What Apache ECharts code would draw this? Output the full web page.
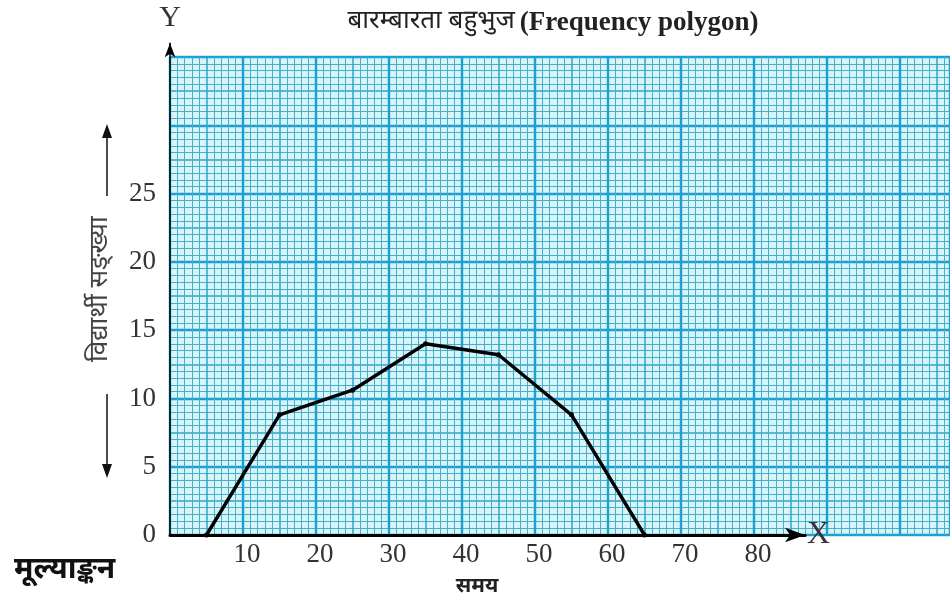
<!DOCTYPE html>
<html>
<head>
<meta charset="utf-8">
<script src="https://cdn.jsdelivr.net/npm/echarts@6/dist/echarts.min.js"></script>
<style>
html,body{margin:0;padding:0;background:#fff;}
#c{width:950px;height:604px;}
</style>
</head>
<body>
<div id="c"></div>
<script>
// ---- data ----
var classMarks = [5, 15, 25, 35, 45, 55, 65];
var frequencies = [0, 8.8, 10.6, 14, 13.2, 8.8, 0];
var xTickLabels = [10, 20, 30, 40, 50, 60, 70, 80];
var yTickLabels = [0, 5, 10, 15, 20, 25];
var titleText = 'बारम्बारता बहुभुज';
var titleEn = '(Frequency polygon)';
var xName = 'समय';
var yName = 'विद्यार्थी सङ्ख्या';
var cornerText = 'मूल्याङ्कन';

var DEV = '"Noto Sans Devanagari","Lohit Devanagari","FreeSans","Noto Sans",sans-serif';
var SERIF = '"Liberation Serif","DejaVu Serif",serif';

var chart = echarts.init(document.getElementById('c'), null, {renderer: 'canvas'});

var left = 170, bottom = 69, top0 = 57;
var plotH = 604 - bottom - top0;   // 478 -> 35 units
var pxY = plotH / 35;
var pxX = 7.3;
var paperW = 950 - left;
var axisXMax = 87;
var axisYMax = 36;
var axisTop = 604 - bottom - axisYMax * pxY;

var MINOR = '#4aaec4', MED = '#2ea3c8', MAJOR = '#1d9fd4', FILL = '#d6f5fa';

function pair(grid, xint, xminor, yint, yminor, show, color, width) {
  return {
    x: {type: 'value', gridIndex: grid, min: 0, max: paperW / pxX, interval: xint,
        axisLine: {show: false}, axisTick: {show: false}, axisLabel: {show: false},
        splitLine: {show: true, lineStyle: {color: color, width: width}},
        minorTick: {show: false, splitNumber: xminor},
        minorSplitLine: {show: show, lineStyle: {color: MINOR, width: 1}}},
    y: {type: 'value', gridIndex: grid, min: 0, max: 35, interval: yint,
        axisLine: {show: false}, axisTick: {show: false}, axisLabel: {show: false},
        splitLine: {show: true, lineStyle: {color: color, width: width}},
        minorTick: {show: false, splitNumber: yminor},
        minorSplitLine: {show: show, lineStyle: {color: MINOR, width: 1}}}
  };
}
var p0 = pair(0, 5, 5, 2.5, 5, true, MED, 1.5);
var p1 = pair(1, 10, 5, 5, 5, false, MAJOR, 2.4);
p1.y.name = 'Y';
p1.y.nameLocation = 'end';
p1.y.nameGap = 24;
p1.y.nameTextStyle = {fontFamily: SERIF, fontSize: 30, color: '#333', align: 'center'};

var option = {
  backgroundColor: '#fff',
  animation: false,
  title: [
    {text: '{a|' + titleText + '} {b|' + titleEn + '}', left: 548, top: 5, textAlign: 'center',
     textStyle: {rich: {
       a: {fontFamily: DEV, fontSize: 26, fontWeight: 'normal', color: '#222'},
       b: {fontFamily: SERIF, fontSize: 27, fontWeight: 'bold', color: '#222'}}}},
    {text: cornerText, left: 9, top: 552,
     textStyle: {fontFamily: DEV, fontSize: 30, fontWeight: 'bold', color: '#111'}},
    {text: xName, left: 472, top: 573, textAlign: 'center',
     textStyle: {fontFamily: DEV, fontSize: 21, fontWeight: 'bold', color: '#222'}}
  ],
  grid: [
    {left: left, top: top0, width: paperW, height: plotH, show: true, backgroundColor: FILL, borderWidth: 0},
    {left: left, top: top0, width: paperW, height: plotH, show: false},
    {left: left, top: axisTop, width: axisXMax * pxX, height: axisYMax * pxY, show: false}
  ],
  xAxis: [p0.x, p1.x, {
    type: 'value', gridIndex: 2, min: 0, max: axisXMax, interval: 10,
    name: 'X', nameLocation: 'end', nameGap: 2,
    nameTextStyle: {fontFamily: SERIF, fontSize: 32, color: '#3a3040', verticalAlign: 'middle'},
    axisLine: {show: true, symbol: ['none', 'arrow'], symbolSize: [11, 20], lineStyle: {color: '#000', width: 3}},
    axisTick: {show: false}, splitLine: {show: false},
    axisLabel: {fontFamily: SERIF, fontSize: 27, color: '#333', margin: 6, padding: [0, 0, 0, 8],
      formatter: function (v) { return xTickLabels.indexOf(v) >= 0 ? String(v) : ''; }}
  }],
  yAxis: [p0.y, p1.y, {
    type: 'value', gridIndex: 2, min: 0, max: axisYMax, interval: 5,
    name: yName, nameLocation: 'middle', nameRotate: 90, nameGap: 55,
    nameTextStyle: {fontFamily: DEV, fontSize: 26, color: '#444'},
    axisLine: {show: true, symbol: ['none', 'arrow'], symbolSize: [8, 14], lineStyle: {color: '#000', width: 1.5}},
    axisTick: {show: false}, splitLine: {show: false},
    axisLabel: {fontFamily: SERIF, fontSize: 27, color: '#333', margin: 14,
      formatter: function (v) { return yTickLabels.indexOf(v) >= 0 ? String(v) : ''; }}
  }],
  graphic: [
    {type: 'line', shape: {x1: 107, y1: 196, x2: 107, y2: 136}, style: {stroke: '#111', lineWidth: 1.5}},
    {type: 'polygon', shape: {points: [[102, 138], [112, 138], [107, 124]]}, style: {fill: '#111'}},
    {type: 'line', shape: {x1: 107, y1: 394, x2: 107, y2: 466}, style: {stroke: '#111', lineWidth: 1.5}},
    {type: 'polygon', shape: {points: [[102, 464], [112, 464], [107, 478]]}, style: {fill: '#111'}}
  ],
  series: [{
    type: 'line', xAxisIndex: 2, yAxisIndex: 2,
    data: classMarks.map(function (x, i) { return [x, frequencies[i]]; }),
    symbol: 'circle', symbolSize: 5, showSymbol: true,
    lineStyle: {color: '#000', width: 3.4}, itemStyle: {color: '#000'}, z: 5
  }]
};
chart.setOption(option);
</script>
</body>
</html>
